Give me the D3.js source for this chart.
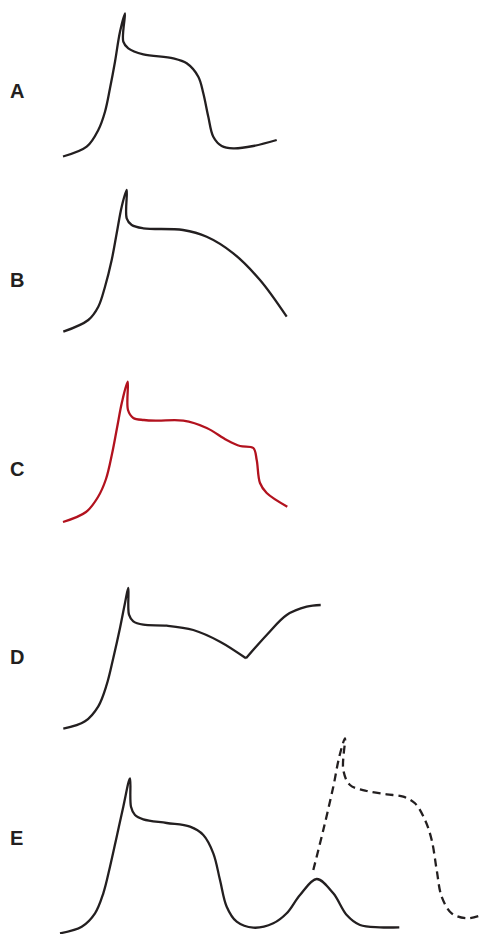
<!DOCTYPE html>
<html>
<head>
<meta charset="utf-8">
<script src="https://cdn.jsdelivr.net/npm/d3@7"></script>
<style>
  html, body { margin: 0; padding: 0; background: #fff; }
  svg { display: block; }
</style>
</head>
<body>
<svg id="chart" width="482" height="934"></svg>
<script>
// panel labels
const labels = ["A", "B", "C", "D", "E"];

// time (ms) and membrane potential (mV)
const aTime = [1, 24.7, 36.3, 43, 48, 53, 58, 63, 61.3, 66.3, 81.3, 111.3, 124.7, 136.3, 141.3, 146.3, 151.3, 159.7, 171.3, 191.3, 214.7];
const aVolt = [-90.5, -80.7, -64, -45.7, -22.3, 4.3, 34.3, 52.7, 24.3, 17.7, 11.7, 7.7, 2.7, -10.7, -27.3, -50.7, -70.7, -80, -82.3, -80, -74];

const bTime = [1.3, 26.3, 36.3, 43, 49.7, 54.7, 59.7, 64.7, 64.7, 69.7, 81.3, 121, 144.7, 171.3, 198, 224.7];
const bVolt = [-90.7, -79, -65.7, -45.7, -19, 7.7, 34.3, 51, 22.7, 16, 12.7, 11, 4.3, -12.3, -39, -75.7];

const cTime = [1, 24, 36, 44, 50, 55, 60, 65.7, 66, 71.3, 82, 94.7, 121.3, 144.7, 164.7, 178, 191.3, 194.7, 198, 204.7, 225.3];
const cVolt = [-90, -80, -65, -47, -22, 4, 30, 50.3, 22, 14, 12, 11.3, 11.3, 4, -8, -14, -16, -28, -51, -61, -74.7];

// D has a sharp notch, so it is kept as two pieces
const dTime1 = [1.3, 23, 36.3, 44.7, 51.3, 58, 63, 66.3, 67, 71.3, 81.3, 104.7, 131.3, 158, 184];
const dVolt1 = [-89.7, -82.3, -67.3, -45.7, -19, 11, 36, 51, 24.3, 17.7, 14.3, 13.3, 9, -2.7, -19.3];
const dTime2 = [184, 204.7, 224.7, 244.7, 258.7];
const dVolt2 = [-19.3, 4, 24, 32.3, 34];

const eTime = [-2, 19.7, 33, 41.3, 48, 54.7, 61.3, 68, 69, 73, 81.3, 104.7, 128, 141.3, 151.3, 158, 164.7, 174.7, 191.3, 211.3, 224.7, 238, 254.7, 271.3, 284.7, 298, 318, 337.3];
const eVolt = [-90.3, -83.7, -70.3, -50.3, -23.7, 6.3, 36.3, 64.7, 36.3, 28, 23.7, 20, 16.3, 8, -10.3, -37, -63.7, -78.7, -84.7, -80.3, -70.3, -52, -36, -50.3, -72, -82, -84.3, -84.3];
// triggered beat (dashed)
const eDashTime = [251.3, 261.3, 271.3, 277.3, 283, 281.3, 288, 304.7, 324.7, 341.3, 353, 363, 369.7, 374.7, 379.7, 389.7, 404.7, 419.7];
const eDashVolt = [-27, 13, 56.3, 86.3, 104.7, 73, 58, 52, 48.7, 46.3, 39.7, 23, 3, -27, -53.7, -70.3, -75.3, -72];

const black = "#231f20";
const red = "#b2121e";

const panels = [
  { label: labels[0], base: 156, labelY: 98, traces: [{ t: aTime, v: aVolt }] },
  { label: labels[1], base: 331, labelY: 287, traces: [{ t: bTime, v: bVolt }] },
  { label: labels[2], base: 522, labelY: 476, traces: [{ t: cTime, v: cVolt, color: red }] },
  { label: labels[3], base: 729, labelY: 664, traces: [{ t: dTime1, v: dVolt1 }, { t: dTime2, v: dVolt2 }] },
  { label: labels[4], base: 933, labelY: 845, traces: [{ t: eTime, v: eVolt }, { t: eDashTime, v: eDashVolt, dashed: true }] }
];

const svg = d3.select("#chart");

// shared time axis
const x = d3.scaleLinear().domain([0, 420]).range([62, 482]);

panels.forEach(p => {
  const y = d3.scaleLinear().domain([-90, 60]).range([p.base, p.base - 150]);

  const line = d3.line()
    .x(d => x(d[0]))
    .y(d => y(d[1]))
    .curve(d3.curveCatmullRom.alpha(0.5));

  svg.append("text")
    .attr("x", 10)
    .attr("y", p.labelY)
    .attr("font-family", "'Liberation Sans', Arial, sans-serif")
    .attr("font-weight", "bold")
    .attr("font-size", 20)
    .attr("fill", black)
    .text(p.label);

  p.traces.forEach(tr => {
    svg.append("path")
      .datum(d3.zip(tr.t, tr.v))
      .attr("d", line)
      .attr("fill", "none")
      .attr("stroke", tr.color || black)
      .attr("stroke-width", 2.3)
      .attr("stroke-linejoin", "round")
      .attr("stroke-linecap", "butt")
      .attr("stroke-dasharray", tr.dashed ? "8,5" : null);
  });
});
</script>
</body>
</html>
